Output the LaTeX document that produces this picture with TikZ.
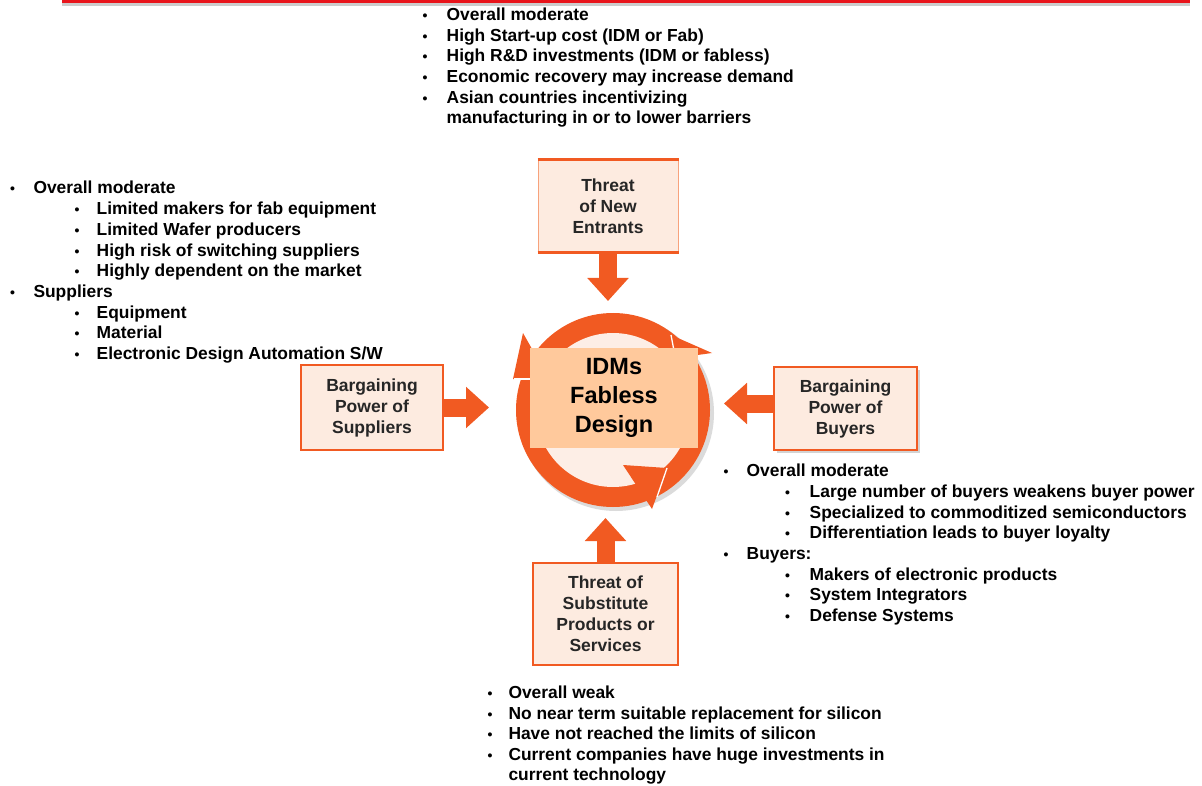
\documentclass[tikz,border=0pt]{standalone}
\usepackage{fontspec}
\setmainfont{Liberation Sans}
\usetikzlibrary{arrows.meta,shadows}
\definecolor{org}{HTML}{F15A22}
\definecolor{orgl}{HTML}{F7A27C}
\definecolor{boxfill}{HTML}{FDEBE0}
\definecolor{corefill}{HTML}{FFC99C}
\definecolor{innerfill}{HTML}{FDEEE6}
\definecolor{topred}{HTML}{E8141B}
\newcommand\li[5]{\node[bul] (#1b) at (#2,#4) {\textbullet}; \node[txt] (#1) at (#3,#4) {#5};}
\begin{document}
\begin{tikzpicture}[x=1pt,y=-1pt,
 txt/.style={anchor=base west,inner sep=0,font=\fontsize{17.4}{20.7}\selectfont\bfseries},
 bul/.style={anchor=base,inner sep=0,font=\fontsize{14}{14}\selectfont\bfseries},
 force/.style={draw=org, fill=boxfill, line width=2pt, align=center, inner sep=0,
   font=\fontsize{17.5}{21}\selectfont\bfseries, text=black!85},
 blockarrow/.style={draw=org, line width=18pt, -{Triangle[width=40pt,length=23pt]}},
 ringhead/.style={fill=org},
 gapline/.style={draw=white, line width=1.3pt},
 ]
\useasboundingbox (0,0) rectangle (1202,786);
% top rule
\coordinate (rl1) at (62,1.6);
\coordinate (rl2) at (1190,1.6);
\draw[black!20, line width=3pt] ([yshift=-3pt]rl1) -- ([yshift=-3pt]rl2);
\draw[topred, line width=2.6pt] (rl1) -- (rl2);

% ring
\fill[black!14] (616,413) circle[radius=98pt];
\node[circle, fill=org, minimum size=194pt, inner sep=0] (ring) at (613,410) {};
\fill[innerfill] (ring.center) circle[radius=77pt];
\fill[ringhead] (523,333) -- (513,379) -- (549,379) -- cycle;
\draw[gapline] (513.5,379) -- (531,379);
\fill[ringhead] (671,335) -- (712,353) -- (676,358) -- cycle;
\draw[gapline] (671,335) -- (675,356);
\fill[ringhead] (623,465) -- (667,468) -- (652,509) -- cycle;
\draw[gapline] (667,468) -- (657,497);

% core
\node[fill=corefill, minimum width=168pt, minimum height=100pt, inner sep=0, align=center,
  font=\fontsize{23.5}{29.2}\selectfont\bfseries] (core) at (614,398) {IDMs\\Fabless\\Design};

% force boxes
\node[force, draw=orgl, line width=1pt, minimum width=140pt, minimum height=92pt] (ent) at (608,206) {Threat\\of New\\Entrants};
\draw[org, line width=3pt] (ent.north west) -- (ent.north east);
\draw[org, line width=3pt] (ent.south west) -- (ent.south east);
\node[force, minimum width=142pt, minimum height=85pt] (sup) at (372,407.5) {Bargaining\\Power of\\Suppliers};
\node[force, line width=1.3pt, minimum width=143pt, minimum height=83pt,
  drop shadow={opacity=0.35, shadow xshift=3pt, shadow yshift=-3pt}] (buy) at (845.5,408.5) {Bargaining\\Power of\\Buyers};
\node[force, minimum width=145pt, minimum height=102pt] (sub) at (605.5,614) {Threat of\\Substitute\\Products or\\Services};

% block arrows
\coordinate (tD) at (608,301);
\draw[blockarrow] (ent.south) -- (tD);
\coordinate (tR) at (489,407.5);
\draw[blockarrow] (sup.east) -- (tR);
\coordinate (tL) at (724,403.5);
\draw[blockarrow] ([yshift=5pt]buy.west) -- (tL);
\coordinate (tU) at (605.5,518);
\draw[blockarrow] (sub.north) -- (tU);

% top text
\li{a1}{425}{446.5}{20.5}{Overall moderate}
\li{a2}{425}{446.5}{41.2}{High Start-up cost (IDM or Fab)}
\li{a3}{425}{446.5}{61.9}{High R\&D investments (IDM or fabless)}
\li{a4}{425}{446.5}{82.6}{Economic recovery may increase demand}
\li{a5}{425}{446.5}{103.3}{Asian countries incentivizing}
\node[txt] (a6) at (446.5,124) {manufacturing in or to lower barriers};

% left text
\li{b1}{12.7}{33.3}{194}{Overall moderate}
\li{b2}{77}{96.5}{214.7}{Limited makers for fab equipment}
\li{b3}{77}{96.5}{235.4}{Limited Wafer producers}
\li{b4}{77}{96.5}{256.1}{High risk of switching suppliers}
\li{b5}{77}{96.5}{276.8}{Highly dependent on the market}
\li{b6}{12.7}{33.3}{297.5}{Suppliers}
\li{b7}{77}{96.5}{318.2}{Equipment}
\li{b8}{77}{96.5}{338.9}{Material}
\li{b9}{77}{96.5}{359.6}{Electronic Design Automation S/W}

% right text
\li{c1}{726}{746.5}{476.7}{Overall moderate}
\li{c2}{787.5}{809.5}{497.4}{Large number of buyers weakens buyer power}
\li{c3}{787.5}{809.5}{518.1}{Specialized to commoditized semiconductors}
\li{c4}{787.5}{809.5}{538.8}{Differentiation leads to buyer loyalty}
\li{c5}{726}{746.5}{559.5}{Buyers:}
\li{c6}{787.5}{809.5}{580.2}{Makers of electronic products}
\li{c7}{787.5}{809.5}{600.9}{System Integrators}
\li{c8}{787.5}{809.5}{621.6}{Defense Systems}

% bottom text
\li{d1}{490}{508.3}{698.5}{Overall weak}
\li{d2}{490}{508.3}{719}{No near term suitable replacement for silicon}
\li{d3}{490}{508.3}{739.5}{Have not reached the limits of silicon}
\li{d4}{490}{508.3}{760}{Current companies have huge investments in}
\node[txt] (d5) at (508.3,780.5) {current technology};
\end{tikzpicture}
\end{document}
